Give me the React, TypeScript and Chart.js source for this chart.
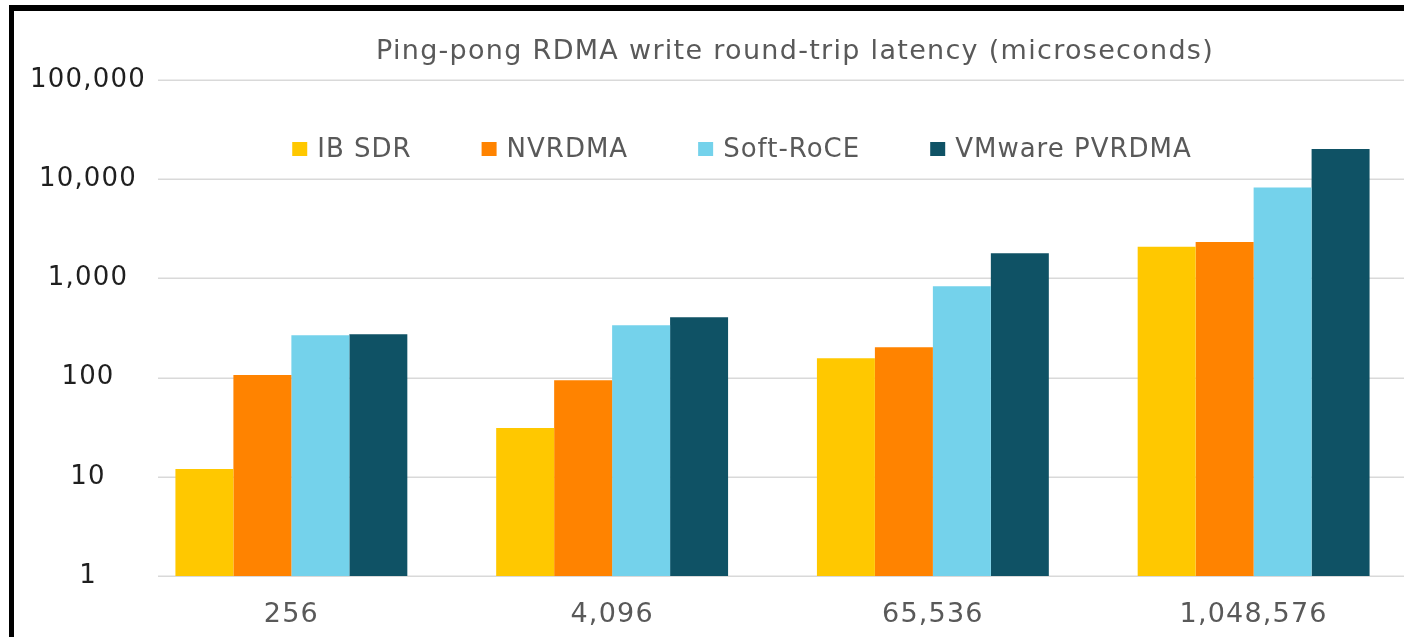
import React, { useEffect, useRef } from "react";
import { Chart, registerables } from "chart.js";

Chart.register(...registerables);

const categories = ["256", "4,096", "65,536", "1,048,576"];
const seriesNames = ["IB SDR", "NVRDMA", "Soft-RoCE", "VMware PVRDMA"];
const ibSdr = [12, 31, 157, 2090];
const nvrdma = [106, 94, 202, 2330];
const softRoce = [268, 337, 833, 8240];
const vmware = [274, 406, 1790, 20100];
const yTicks = [1, 10, 100, 1000, 10000, 100000];
const titleText = "Ping-pong RDMA write round-trip latency (microseconds)";

const colors = ["#FFC800", "#FF8300", "#74D2EB", "#0F5265"];
const FONT = "'DejaVu Sans', sans-serif";

const fmt = (v: number) => Number(v).toLocaleString("en-US");

const overlayPlugin = {
  id: "overlay",
  beforeUpdate(chart: any) {
    chart.ctx.letterSpacing = "1.2px";
  },
  beforeDatasetsDraw(chart: any) {
    const { ctx, chartArea } = chart;
    const y = chart.scales.y;
    ctx.save();
    ctx.strokeStyle = "#d9d9d9";
    ctx.lineWidth = 1.5;
    yTicks.forEach((v) => {
      const py = Math.round(y.getPixelForValue(v)) + 0.25;
      ctx.beginPath();
      ctx.moveTo(chartArea.left + 27, py);
      ctx.lineTo(chartArea.right, py);
      ctx.stroke();
    });
    ctx.restore();
  },
  afterDraw(chart: any) {
    const { ctx } = chart;
    const y = chart.scales.y;
    ctx.save();
    // y tick labels
    ctx.letterSpacing = "1.2px";
    ctx.font = `26px ${FONT}`;
    ctx.fillStyle = "#1f1f1f";
    ctx.textAlign = "center";
    ctx.textBaseline = "middle";
    yTicks.forEach((v) => {
      ctx.fillText(fmt(v), 88, y.getPixelForValue(v));
    });

    // title
    ctx.letterSpacing = "1.3px";
    ctx.font = `27px ${FONT}`;
    ctx.fillStyle = "#595959";
    ctx.fillText(titleText, 795, 52);

    // legend
    ctx.letterSpacing = "1px";
    ctx.font = `26px ${FONT}`;
    const boxW = 15;
    const boxH = 14;
    const boxGap = 10;
    const itemGap = 70;
    const ds = chart.data.datasets;
    const widths = ds.map((d: any) => boxW + boxGap + ctx.measureText(d.label).width);
    const total = widths.reduce((a: number, b: number) => a + b, 0) + itemGap * (ds.length - 1);
    let x = 742 - total / 2;
    const cy = 149;
    ds.forEach((d: any, i: number) => {
      ctx.fillStyle = d.backgroundColor;
      ctx.fillRect(x, cy - boxH / 2, boxW, boxH);
      ctx.fillStyle = "#595959";
      ctx.textAlign = "left";
      ctx.fillText(d.label, x + boxW + boxGap, cy + 1);
      x += widths[i] + itemGap;
    });
    ctx.restore();
  },
};

export default function App() {
  const ref = useRef<HTMLCanvasElement>(null);

  useEffect(() => {
    if (!ref.current) return;
    const seriesData = [ibSdr, nvrdma, softRoce, vmware];
    const chart = new Chart(ref.current, {
      type: "bar",
      data: {
        labels: categories,
        datasets: seriesNames.map((name, i) => ({
          label: name,
          data: seriesData[i],
          backgroundColor: colors[i],
          borderWidth: 0,
          categoryPercentage: 0.723,
          barPercentage: 1,
        })),
      },
      plugins: [overlayPlugin],
      options: {
        animation: false,
        responsive: false,
        devicePixelRatio: 1,
        layout: { padding: { left: 20, right: 6, top: 80, bottom: 0 } },
        plugins: {
          legend: { display: false },
          title: { display: false },
          tooltip: { enabled: false },
        },
        scales: {
          x: {
            type: "category",
            grid: { display: false },
            border: { display: false },
            ticks: {
              color: "#595959",
              font: { family: FONT, size: 27 },
              padding: 15,
              maxRotation: 0,
            },
            afterFit(scale: any) {
              scale.height = 61;
            },
          },
          y: {
            type: "logarithmic",
            min: 1,
            max: 100000,
            grid: { display: false, drawTicks: false },
            border: { display: false },
            ticks: { display: false },
            afterBuildTicks(scale: any) {
              scale.ticks = yTicks.map((v) => ({ value: v, major: true }));
            },
            afterFit(scale: any) {
              scale.width = 111;
            },
          },
        },
      },
    });
    return () => chart.destroy();
  }, []);

  return (
    <div
      style={{
        position: "fixed",
        left: 0,
        top: 0,
        width: 1404,
        height: 637,
        overflow: "hidden",
        background: "#ffffff",
      }}
    >
      <canvas
        ref={ref}
        width={1420}
        height={637}
        style={{ position: "absolute", left: 0, top: 0, width: 1420, height: 637 }}
      />
      <div
        style={{
          position: "absolute",
          left: 9,
          top: 5,
          width: 1420,
          height: 626,
          borderTop: "6px solid #000",
          borderLeft: "5px solid #000",
          borderBottom: "2px solid #222",
          pointerEvents: "none",
        }}
      />
    </div>
  );
}
